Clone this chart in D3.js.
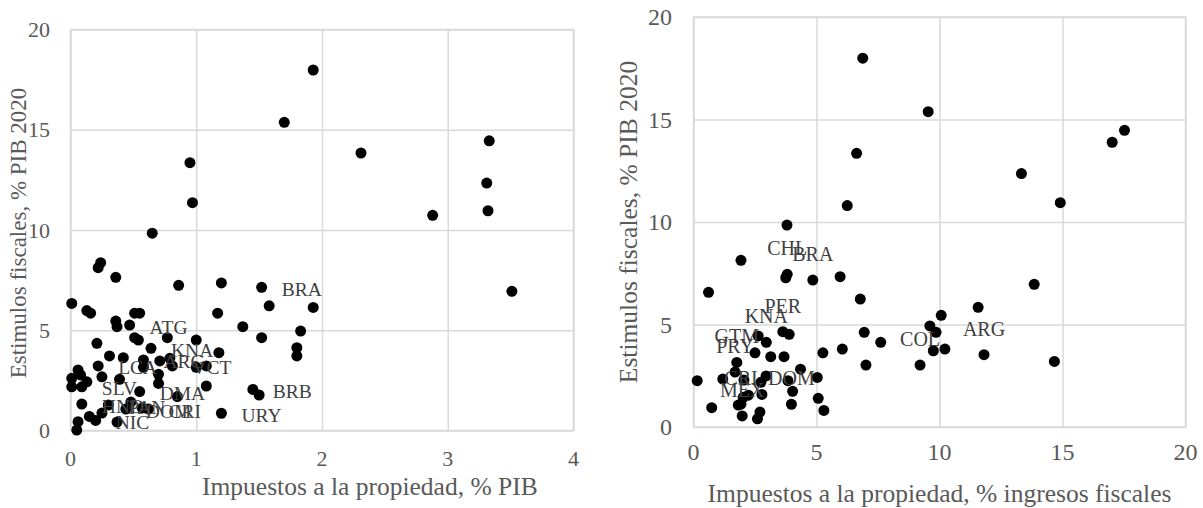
<!DOCTYPE html>
<html>
<head>
<meta charset="utf-8">
<script src="https://cdn.jsdelivr.net/npm/d3@7"></script>
<style>
  body { margin: 0; background: #fff; }
  text { font-family: "Liberation Serif", "Times New Roman", serif; }
</style>
</head>
<body>
<script>
// Estimulos fiscales vs impuestos a la propiedad (two panels)

var yTicks = [0, 5, 10, 15, 20];
var xTicksLeft = [0, 1, 2, 3, 4];
var xTicksRight = [0, 5, 10, 15, 20];

var yTitle = "Estimulos fiscales, % PIB 2020";
var xTitleLeft = "Impuestos a la propiedad, % PIB";
var xTitleRight = "Impuestos a la propiedad, % ingresos fiscales";

// left panel: [impuestos % PIB, estimulos % PIB]
var leftPoints = [
  [1.93, 17.98], [1.70, 15.37], [2.31, 13.84], [3.33, 14.45], [3.31, 12.34],
  [3.32, 10.96], [2.88, 10.73], [0.95, 13.36], [0.97, 11.36], [0.65, 9.84],
  [0.24, 8.37], [0.22, 8.12], [0.36, 7.64], [0.86, 7.24], [1.20, 7.36],
  [3.51, 6.94], [0.01, 6.34], [0.13, 5.98], [0.16, 5.85], [0.51, 5.85],
  [0.55, 5.85], [1.17, 5.85], [1.58, 6.22], [1.93, 6.14], [0.36, 5.46],
  [0.37, 5.18], [1.37, 5.18], [1.52, 4.63], [1.83, 4.96], [1.80, 4.13],
  [1.80, 3.72], [0.21, 4.35], [0.51, 4.63], [0.54, 4.51], [0.77, 4.63],
  [1.00, 4.51], [0.31, 3.72], [0.42, 3.63], [0.71, 3.47], [0.79, 3.60],
  [1.00, 3.15], [1.08, 3.22], [1.18, 3.88], [0.70, 2.80], [0.70, 2.35],
  [0.58, 3.15], [0.06, 3.02], [0.08, 2.77], [0.01, 2.60], [0.01, 2.18],
  [0.13, 2.43], [0.25, 2.68], [0.39, 2.55], [1.08, 2.22], [0.85, 1.69],
  [1.50, 1.77], [0.06, 0.44], [0.05, 0.02], [0.15, 0.70], [0.25, 0.87],
  [0.37, 0.42], [0.48, 1.42], [0.57, 1.12]
];
var leftLabels = [
  ["BRA", 1.52, 7.14], ["ATG", 0.47, 5.26], ["KNA", 0.64, 4.10],
  ["ARG", 0.58, 3.52], ["VCT", 0.81, 3.22], ["LCA", 0.22, 3.22],
  ["SLV", 0.09, 2.18], ["DMA", 0.55, 1.94], ["BRB", 1.45, 2.05],
  ["HND", 0.09, 1.32], ["PAN", 0.30, 1.27], ["DOM", 0.44, 1.07],
  ["CRI", 0.62, 1.07], ["NIC", 0.20, 0.50], ["URY", 1.20, 0.86]
];

// right panel: [impuestos % ingresos fiscales, estimulos % PIB]
var rightPoints = [
  [6.88, 17.99], [9.54, 15.38], [6.63, 13.35], [6.25, 10.80], [3.80, 9.85],
  [13.33, 12.36], [14.91, 10.94], [17.02, 13.89], [17.52, 14.47], [1.93, 8.13],
  [0.61, 6.57], [3.75, 7.28], [5.96, 7.33], [13.85, 6.96], [6.78, 6.24],
  [11.57, 5.84], [10.07, 5.45], [9.61, 4.93], [9.86, 4.62], [9.75, 3.72],
  [10.22, 3.80], [14.67, 3.20], [6.94, 4.62], [7.61, 4.13], [6.05, 3.80],
  [5.26, 3.62], [7.01, 3.02], [5.07, 1.40], [5.30, 0.81], [3.89, 4.52],
  [2.63, 4.44], [2.50, 3.62], [3.14, 3.43], [3.68, 3.43], [0.15, 2.26],
  [1.19, 2.34], [2.05, 2.29], [2.95, 2.49], [3.84, 2.26], [4.35, 2.82],
  [5.03, 2.42], [4.03, 1.74], [2.74, 2.18], [2.78, 1.59], [2.23, 1.55],
  [1.82, 1.07], [0.74, 0.94], [2.70, 0.73], [2.60, 0.40], [2.02, 1.45]
];
var rightLabels = [
  ["CHL", 3.81, 7.45], ["BRA", 4.85, 7.17], ["PER", 3.63, 4.65],
  ["KNA", 2.96, 4.13], ["GTM", 1.76, 3.15], ["PRY", 1.69, 2.68],
  ["CRI", 1.93, 1.12], ["DOM", 3.98, 1.11], ["MEX", 1.98, 0.54],
  ["COL", 9.21, 3.02], ["ARG", 11.81, 3.53]
];

var svg = d3.select("body")
  .append("svg")
  .attr("width", 1203)
  .attr("height", 508);

svg.append("rect").attr("width", 1203).attr("height", 508).attr("fill", "#fff");

function drawPanel(p) {
  var x = d3.scaleLinear().domain([p.xTicks[0], p.xTicks[p.xTicks.length - 1]]).range([p.left, p.right]);
  var y = d3.scaleLinear().domain([0, 20]).range([p.bottom, p.top]);
  var g = svg.append("g");

  // grid
  g.append("g")
    .attr("transform", "translate(0," + p.bottom + ")")
    .call(d3.axisBottom(x).tickValues(p.xTicks).tickSize(-(p.bottom - p.top)).tickFormat(""))
    .call(function(s){ s.select(".domain").remove(); });
  g.append("g")
    .attr("transform", "translate(" + p.left + ",0)")
    .call(d3.axisLeft(y).tickValues(yTicks).tickSize(-(p.right - p.left)).tickFormat(""))
    .call(function(s){ s.select(".domain").remove(); });
  g.selectAll(".tick line").attr("stroke", "#d9d9d9").attr("stroke-width", 1.5);
  g.append("rect")
    .attr("x", p.left).attr("y", p.top)
    .attr("width", p.right - p.left).attr("height", p.bottom - p.top)
    .attr("fill", "none").attr("stroke", "#d9d9d9").attr("stroke-width", 1.5);

  // tick labels
  g.selectAll(".xl").data(p.xTicks).enter().append("text")
    .attr("x", function(d){ return x(d); })
    .attr("y", p.xLabY)
    .attr("text-anchor", "middle").attr("dominant-baseline", "central")
    .attr("font-size", p.tickSize).attr("fill", "#595959")
    .text(function(d){ return d; });
  g.selectAll(".yl").data(yTicks).enter().append("text")
    .attr("x", p.yLabX)
    .attr("y", function(d){ return y(d); })
    .attr("text-anchor", "end").attr("dominant-baseline", "central")
    .attr("font-size", p.tickSize).attr("fill", "#595959")
    .text(function(d){ return d; });

  // titles
  g.append("text")
    .attr("x", p.xTitleX).attr("y", p.xTitleY)
    .attr("text-anchor", p.xTitleAnchor).attr("dominant-baseline", "central")
    .attr("font-size", p.xTitleSize).attr("fill", "#595959")
    .text(p.xTitle);
  g.append("text")
    .attr("transform", "translate(" + p.yTitleX + "," + p.yTitleY + ") rotate(-90)")
    .attr("text-anchor", "middle").attr("dominant-baseline", "central")
    .attr("font-size", p.titleSize).attr("fill", "#595959")
    .text(yTitle);

  // points
  var all = p.points.concat(p.labels.map(function(d){ return [d[1], d[2]]; }));
  g.selectAll("circle").data(all).enter().append("circle")
    .attr("cx", function(d){ return x(d[0]); })
    .attr("cy", function(d){ return y(d[1]); })
    .attr("r", 5.5)
    .attr("fill", "#000");

  // country labels
  g.selectAll(".lab").data(p.labels).enter().append("text")
    .attr("x", function(d){ return x(d[1]) + p.labDx; })
    .attr("y", function(d){ return y(d[2]) + p.labDy; })
    .attr("text-anchor", p.labAnchor).attr("dominant-baseline", "central")
    .attr("font-size", p.labSize).attr("fill", "#404040")
    .text(function(d){ return d[0]; });
}

drawPanel({
  xTicks: xTicksLeft, points: leftPoints, labels: leftLabels, xTitle: xTitleLeft,
  left: 70.5, right: 573.5, top: 29.5, bottom: 430.5,
  xLabY: 458, yLabX: 50, xTitleX: 202, xTitleAnchor: "start", xTitleY: 486, xTitleSize: 25.5,
  yTitleX: 18, yTitleY: 233,
  tickSize: 22, titleSize: 23, labSize: 19.5,
  labDx: 20, labDy: 2, labAnchor: "start"
});

drawPanel({
  xTicks: xTicksRight, points: rightPoints, labels: rightLabels, xTitle: xTitleRight,
  left: 693.5, right: 1185.5, top: 17, bottom: 427,
  xLabY: 452, yLabX: 672, xTitleX: 939.5, xTitleAnchor: "middle", xTitleY: 493, xTitleSize: 25.5,
  yTitleX: 628, yTitleY: 222,
  tickSize: 24, titleSize: 25.5, labSize: 20,
  labDx: 0, labDy: -26, labAnchor: "middle"
});
</script>
</body>
</html>
